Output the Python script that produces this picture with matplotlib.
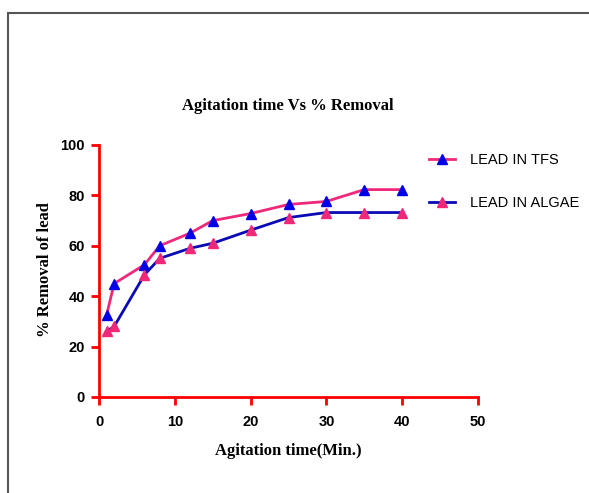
import numpy as np
import matplotlib
matplotlib.use('Agg')
import matplotlib.pyplot as plt
from matplotlib.patches import Rectangle

# data
time_min = [1, 2, 6, 8, 12, 15, 20, 25, 30, 35, 40]
lead_tfs = [32.5, 45, 52.5, 60, 65, 70, 72.8, 76.4, 77.6, 82.3, 82.3]
lead_algae = [26, 28, 48.5, 55, 59, 61, 66.2, 71.2, 73.2, 73.2, 73.2]
xticks = [0, 10, 20, 30, 40, 50]
yticks = [0, 20, 40, 60, 80, 100]

pink = '#f0287a'
blue = '#0000e6'
navy = '#0a0ab4'

fig = plt.figure(figsize=(5.89, 4.93), dpi=100)
ax = fig.add_axes([99/589, 1-397/493, (478-99)/589, (397-145)/493])

l1, = ax.plot(time_min, lead_tfs, color=pink, lw=2, marker='^', ms=7,
              mfc=blue, mec=blue, label='LEAD IN TFS', clip_on=False)
l2, = ax.plot(time_min, lead_algae, color=navy, lw=2, marker='^', ms=7,
              mfc=pink, mec=pink, label='LEAD IN ALGAE', clip_on=False)

ax.set_xlim(0, 50)
ax.set_ylim(0, 100)
ax.set_xticks(xticks)
ax.set_yticks(yticks)
for s in ['top', 'right']:
    ax.spines[s].set_visible(False)
for s in ['left', 'bottom']:
    ax.spines[s].set_color('red')
    ax.spines[s].set_linewidth(2)
ax.tick_params(colors='red', width=2, length=6, labelcolor='black',
               labelsize=10.5)
for lab in ax.get_xticklabels() + ax.get_yticklabels():
    lab.set_fontweight('bold')
    lab.set_family('Liberation Sans')
ax.tick_params(axis='x', pad=7)
ax.tick_params(axis='y', pad=4)

fig.text(288/589, 1-106/493, 'Agitation time Vs % Removal', ha='center',
         va='center', fontsize=12, fontweight='bold',
         family='Liberation Serif')
fig.text(288/589, 1-451/493, 'Agitation time(Min.)', ha='center',
         va='center', fontsize=12, fontweight='bold',
         family='Liberation Serif')
fig.text(45/589, 1-270/493, '% Removal of lead', ha='center', va='center',
         rotation=90, fontsize=12, fontweight='bold',
         family='Liberation Serif')

leg = ax.legend(handles=[l1, l2], loc='upper left',
                bbox_to_anchor=(317/379, 1+5/252), frameon=False,
                handlelength=1.8, labelspacing=2.0, handletextpad=1.0,
                prop={'family': 'Liberation Sans', 'size': 10.5})

# outer frame
fig.add_artist(Rectangle((8/589, -0.1), 1.2, 1.1-13/493, transform=fig.transFigure,
                         fill=False, edgecolor='#555555', lw=1.5))

fig.savefig('out.png', dpi=100)
plt.close()
